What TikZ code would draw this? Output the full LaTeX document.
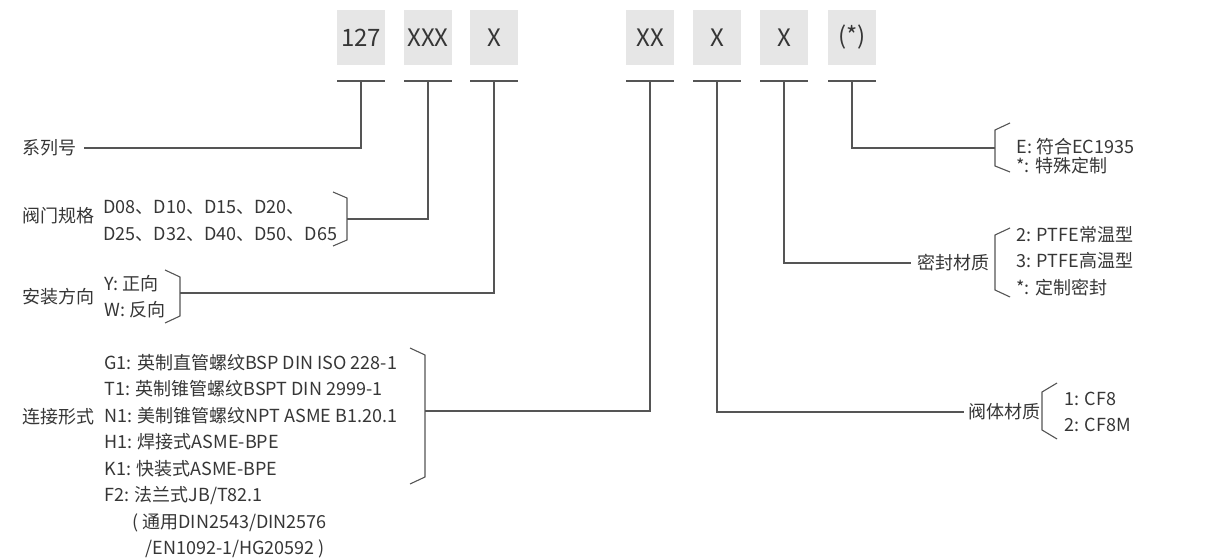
\documentclass[tikz,border=0pt]{standalone}
\usepackage{fontspec}
\setmainfont{Noto Sans CJK SC}
\definecolor{boxgray}{HTML}{E6E6E6}
\definecolor{linegray}{HTML}{555555}
\definecolor{txtgray}{HTML}{363636}
\begin{document}
\begin{tikzpicture}[x=0.5pt,y=-0.5pt,
  codebox/.style={fill=boxgray,minimum width=24pt,minimum height=27.5pt,inner sep=0pt,text=txtgray,font=\fontsize{12}{14}\selectfont},
  bar/.style={line width=1.3pt,draw=linegray},
  link/.style={line width=0.55pt,draw=linegray},
  brk/.style={line width=0.55pt,draw=linegray},
  txt/.style={inner sep=0pt,anchor=west,align=left,text=txtgray,font=\fontsize{9}{13.25}\selectfont}]
\useasboundingbox (0,0) rectangle (1224,560);
% code boxes with their bars
\foreach \n/\x/\t in {1/361/127,2/428/XXX,3/494/X,4/650/XX,5/717/X,6/784/X,7/852/{(*)}} {
  \node[codebox] (b\n) at (\x,37.5) {\t};
  \coordinate (u\n) at (\x,81);
  \draw[bar] ([xshift=-12pt]u\n) -- ([xshift=12pt]u\n);
}
% left side
\node[txt] (xilie) at (22,148) {系列号};
\draw[link] (u1) |- ([xshift=3.5pt]xilie.east);
\node[txt] (guige) at (22,216) {阀门规格};
\node[txt] (guigeopt) at (103,221) {D08、D10、D15、D20、\\D25、D32、D40、D50、D65};
\draw[brk] (333,192) -- (347,198) -- (347,240) -- (333,246);
\coordinate (k2) at (347,219);
\draw[link] (u2) |- (k2);
\node[txt] (fangxiang) at (22,297) {安装方向};
\node[txt] (fangxiangopt) at (104,296.5) {Y: 正向\\W: 反向};
\draw[brk] (165,270) -- (180,277) -- (180,316) -- (165,323);
\coordinate (k3) at (180,293);
\draw[link] (u3) |- (k3);
\node[txt] (lianjie) at (22,417) {连接形式};
\node[txt] (lianjieopt) at (104,456) {G1: 英制直管螺纹BSP DIN ISO 228-1\\T1: 英制锥管螺纹BSPT DIN 2999-1\\N1: 美制锥管螺纹NPT ASME B1.20.1\\H1: 焊接式ASME-BPE\\K1: 快装式ASME-BPE\\F2: 法兰式JB/T82.1\\\hspace{14pt}( 通用DIN2543/DIN2576\\\hspace{20.5pt}/EN1092-1/HG20592 )};
\draw[brk] (410,348) -- (425,355) -- (425,477) -- (410,484);
\coordinate (k4) at (425,411);
\draw[link] (u4) |- (k4);
% right side
\node[txt,anchor=west] (fati) at (968,412) {阀体材质};
\draw[link] (u5) |- ([xshift=-2pt]fati.west);
\draw[brk] (1057,383) -- (1042,392) -- (1042,430) -- (1057,439);
\node[txt] (fatiopt) at (1064,412) {1: CF8\\2: CF8M};
\node[txt,anchor=east] (mifeng) at (990,263) {密封材质};
\draw[link] (u6) |- ([xshift=-3pt]mifeng.west);
\draw[brk] (1010,228) -- (995,235) -- (995,290) -- (1010,297);
\node[txt] (mifengopt) at (1016,261) {2: PTFE常温型\\3: PTFE高温型\\*: 定制密封};
\draw[brk] (1010,123) -- (995,130) -- (995,166) -- (1010,172);
\coordinate (k7) at (995,148);
\draw[link] (u7) |- (k7);
\node[txt,font=\fontsize{9}{9.5}\selectfont] (teshuopt) at (1016,156) {E: 符合EC1935\\*: 特殊定制};
\end{tikzpicture}
\end{document}
